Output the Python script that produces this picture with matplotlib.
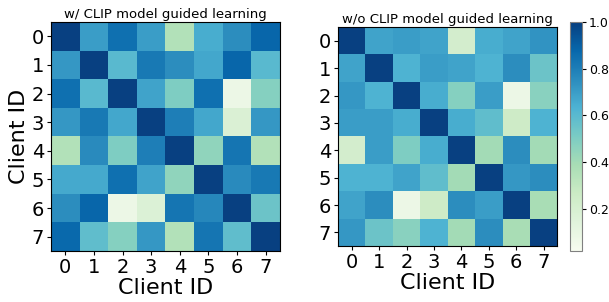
import matplotlib
matplotlib.use("Agg")
import matplotlib.pyplot as plt
import numpy as np

clients = [0, 1, 2, 3, 4, 5, 6, 7]

# similarity with CLIP guidance
sim_with_clip = [
    [1.00, 0.70, 0.85, 0.70, 0.35, 0.65, 0.75, 0.88],
    [0.72, 1.00, 0.60, 0.82, 0.75, 0.67, 0.88, 0.60],
    [0.85, 0.60, 1.00, 0.68, 0.50, 0.85, 0.08, 0.48],
    [0.72, 0.82, 0.67, 1.00, 0.80, 0.67, 0.18, 0.72],
    [0.35, 0.76, 0.50, 0.80, 1.00, 0.45, 0.83, 0.35],
    [0.66, 0.66, 0.85, 0.68, 0.45, 1.00, 0.76, 0.82],
    [0.75, 0.88, 0.08, 0.17, 0.83, 0.77, 1.00, 0.55],
    [0.87, 0.58, 0.48, 0.72, 0.35, 0.83, 0.58, 1.00],
]

# similarity without CLIP guidance
sim_without_clip = [
    [1.00, 0.68, 0.70, 0.68, 0.22, 0.65, 0.68, 0.73],
    [0.68, 1.00, 0.63, 0.70, 0.68, 0.63, 0.75, 0.55],
    [0.72, 0.63, 1.00, 0.65, 0.48, 0.70, 0.08, 0.47],
    [0.70, 0.70, 0.65, 1.00, 0.65, 0.58, 0.25, 0.63],
    [0.22, 0.70, 0.50, 0.65, 1.00, 0.40, 0.75, 0.40],
    [0.63, 0.63, 0.68, 0.58, 0.40, 1.00, 0.72, 0.75],
    [0.68, 0.75, 0.08, 0.25, 0.75, 0.70, 1.00, 0.38],
    [0.72, 0.55, 0.47, 0.63, 0.40, 0.75, 0.38, 1.00],
]

titles = ["w/ CLIP model guided learning", "w/o CLIP model guided learning"]

fig = plt.figure(figsize=(6.09, 3.02), dpi=100)
ax1 = fig.add_axes([0.0837, 0.169, 0.376, 0.758])
ax2 = fig.add_axes([0.555, 0.185, 0.360, 0.725])
cax = fig.add_axes([0.936, 0.169, 0.0197, 0.758])

vmin, vmax = 0.02, 1.0
for ax, data, title in zip([ax1, ax2], [sim_with_clip, sim_without_clip], titles):
    im = ax.imshow(np.array(data), cmap="GnBu", vmin=vmin, vmax=vmax, aspect="auto")
    ax.set_title(title, fontsize=9.5, pad=3)
    ax.set_xticks(range(len(clients)))
    ax.set_yticks(range(len(clients)))
    ax.set_xticklabels(clients, fontsize=14)
    ax.set_yticklabels(clients, fontsize=14)
    ax.tick_params(length=3, pad=2)
    ax.set_xlabel("Client ID", fontsize=16, labelpad=1)

ax1.set_ylabel("Client ID", fontsize=16, labelpad=2)

cb = fig.colorbar(im, cax=cax)
cb.set_ticks([0.2, 0.4, 0.6, 0.8, 1.0])
cb.ax.tick_params(labelsize=9, length=3, pad=2)
cb.outline.set_edgecolor("gray")

fig.savefig("out.png", dpi=100)
plt.close(fig)
